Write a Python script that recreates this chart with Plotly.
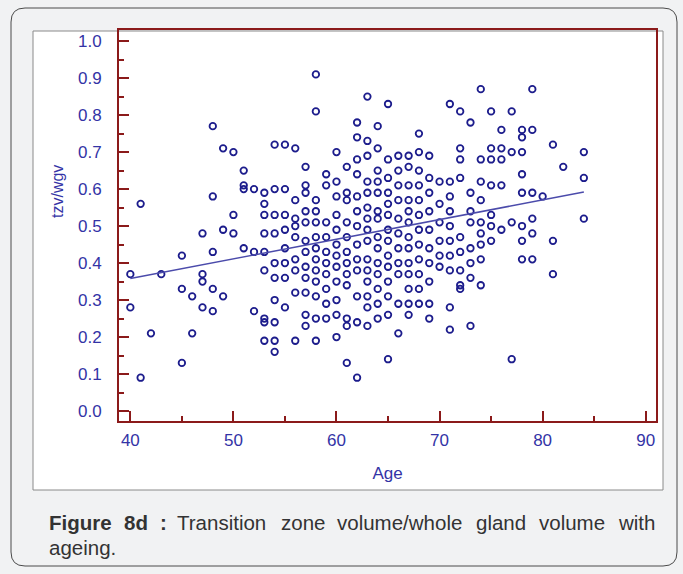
import plotly.graph_objects as go

# Age (years) of each column of observations and the tzv/wgv ratios measured at that age
age_groups = [40, 41, 42, 43, 45, 46, 47, 48, 49, 50, 51, 52, 53, 54, 55, 56, 57, 58, 59,
              60, 61, 62, 63, 64, 65, 66, 67, 68, 69, 70, 71, 72, 73, 74, 75, 76, 77, 78,
              79, 80, 81, 82, 84]
ratio_groups = [
    [0.37, 0.28],
    [0.56, 0.09],
    [0.21],
    [0.37],
    [0.42, 0.33, 0.13],
    [0.31, 0.21],
    [0.48, 0.37, 0.35, 0.28],
    [0.77, 0.58, 0.43, 0.33, 0.27],
    [0.71, 0.49, 0.31],
    [0.70, 0.53, 0.48],
    [0.65, 0.61, 0.60, 0.44],
    [0.60, 0.43, 0.27],
    [0.59, 0.56, 0.53, 0.48, 0.43, 0.38, 0.25, 0.24, 0.19],
    [0.72, 0.60, 0.53, 0.48, 0.40, 0.36, 0.30, 0.24, 0.19, 0.16],
    [0.72, 0.60, 0.53, 0.49, 0.44, 0.40, 0.36, 0.28],
    [0.71, 0.57, 0.52, 0.50, 0.47, 0.41, 0.38, 0.32, 0.19],
    [0.66, 0.61, 0.59, 0.54, 0.51, 0.46, 0.43, 0.39, 0.36, 0.32, 0.26, 0.23],
    [0.91, 0.81, 0.57, 0.54, 0.51, 0.47, 0.44, 0.41, 0.38, 0.35, 0.31, 0.25, 0.19],
    [0.64, 0.61, 0.51, 0.47, 0.43, 0.40, 0.37, 0.33, 0.29, 0.25],
    [0.70, 0.62, 0.58, 0.53, 0.49, 0.45, 0.42, 0.39, 0.35, 0.30, 0.26, 0.20],
    [0.66, 0.59, 0.57, 0.51, 0.47, 0.43, 0.40, 0.37, 0.34, 0.25, 0.23, 0.13],
    [0.78, 0.74, 0.68, 0.64, 0.58, 0.54, 0.50, 0.45, 0.41, 0.38, 0.31, 0.24, 0.09],
    [0.85, 0.73, 0.69, 0.62, 0.59, 0.55, 0.52, 0.49, 0.46, 0.41, 0.38, 0.35, 0.31, 0.28, 0.23],
    [0.77, 0.71, 0.65, 0.62, 0.59, 0.54, 0.52, 0.47, 0.44, 0.40, 0.37, 0.33, 0.29, 0.25],
    [0.83, 0.68, 0.63, 0.59, 0.56, 0.53, 0.49, 0.46, 0.42, 0.39, 0.35, 0.31, 0.26, 0.14],
    [0.69, 0.65, 0.61, 0.57, 0.52, 0.48, 0.44, 0.40, 0.37, 0.29, 0.21],
    [0.69, 0.66, 0.61, 0.57, 0.54, 0.51, 0.47, 0.44, 0.40, 0.37, 0.33, 0.29, 0.26],
    [0.75, 0.70, 0.65, 0.61, 0.57, 0.53, 0.49, 0.45, 0.41, 0.37, 0.33, 0.29],
    [0.69, 0.63, 0.59, 0.54, 0.49, 0.44, 0.40, 0.35, 0.29, 0.25],
    [0.62, 0.56, 0.51, 0.46, 0.42, 0.39],
    [0.83, 0.62, 0.58, 0.54, 0.50, 0.46, 0.42, 0.38, 0.28, 0.22],
    [0.81, 0.71, 0.68, 0.63, 0.47, 0.43, 0.38, 0.34, 0.33],
    [0.78, 0.59, 0.54, 0.51, 0.44, 0.40, 0.36, 0.23],
    [0.87, 0.68, 0.62, 0.57, 0.51, 0.48, 0.45, 0.41, 0.34],
    [0.81, 0.71, 0.68, 0.61, 0.53, 0.50, 0.46],
    [0.76, 0.71, 0.68, 0.61, 0.49],
    [0.81, 0.70, 0.51, 0.14],
    [0.76, 0.74, 0.70, 0.64, 0.59, 0.50, 0.46, 0.41],
    [0.87, 0.76, 0.59, 0.52, 0.48, 0.41],
    [0.58],
    [0.72, 0.46, 0.37],
    [0.66],
    [0.70, 0.63, 0.52],
]

# End points of the fitted regression line
fit_age = [40, 84]
fit_ratio = [0.358, 0.592]

x_ticks = [40, 50, 60, 70, 80, 90]
y_ticks = [0.0, 0.1, 0.2, 0.3, 0.4, 0.5, 0.6, 0.7, 0.8, 0.9, 1.0]

caption_words = ["<b>Figure</b>", "<b>8d</b>", "<b>:</b>", "Transition", "zone",
                 "volume/whole", "gland", "volume", "with"]
caption_tail = "ageing."

age = [a for a, grp in zip(age_groups, ratio_groups) for _ in grp]
ratio = [v for grp in ratio_groups for v in grp]

W, H = 683, 574
PL, PR, PT, PB = 119, 656, 30, 421   # plot-area edges in pixels

AXIS_RED = "#8b1a1a"
LABEL_BLUE = "#3333a6"
MARK_BLUE = "#1c1c8c"
FONT = "Liberation Sans, Arial, sans-serif"


def px(x):
    return (x - PL) / (PR - PL)


def py(y):
    return (PB - y) / (PB - PT)


def rounded_rect(x0, y0, x1, y1, r):
    xa, xb, xr0, xr1 = px(x0), px(x1), px(x0 + r), px(x1 - r)
    ya, yb, yr0, yr1 = py(y0), py(y1), py(y0 + r), py(y1 - r)
    return (f"M {xr0},{ya} L {xr1},{ya} Q {xb},{ya} {xb},{yr0} "
            f"L {xb},{yr1} Q {xb},{yb} {xr1},{yb} L {xr0},{yb} "
            f"Q {xa},{yb} {xa},{yr1} L {xa},{yr0} Q {xa},{ya} {xr0},{ya} Z")


fig = go.Figure()

fig.add_trace(go.Scatter(
    x=age, y=ratio, mode="markers",
    marker=dict(symbol="circle-open", size=6.5, color=MARK_BLUE, line=dict(width=1.8)),
    hoverinfo="x+y", showlegend=False,
))

fig.add_trace(go.Scatter(
    x=fit_age, y=fit_ratio, mode="lines",
    line=dict(color="#4b4bab", width=1.5),
    hoverinfo="skip", showlegend=False,
))

axis_common = dict(
    showline=True, linecolor=AXIS_RED, linewidth=2, mirror=True,
    ticks="inside", ticklen=10, tickwidth=2, tickcolor=AXIS_RED,
    showgrid=False, zeroline=False,
    tickfont=dict(family=FONT, size=17, color=LABEL_BLUE),
)

fig.update_xaxes(
    range=[38.9, 91.0], tickvals=x_ticks, ticktext=[str(t) for t in x_ticks],
    minor=dict(ticks="inside", ticklen=5, tickwidth=2, tickcolor=AXIS_RED, dtick=5,
               tick0=0, showgrid=False),
    ticklabelstandoff=3,
    title=dict(text="Age", font=dict(family=FONT, size=17, color=LABEL_BLUE), standoff=18),
    **axis_common,
)
fig.update_yaxes(
    range=[-0.027, 1.03], tickvals=y_ticks, ticktext=[f"{t:.1f}" for t in y_ticks],
    minor=dict(ticks="inside", ticklen=5, tickwidth=2, tickcolor=AXIS_RED, dtick=0.05,
               tick0=0, showgrid=False),
    ticklabelstandoff=12,
    **axis_common,
)

shapes = [
    dict(type="path", xref="paper", yref="paper", layer="below",
         path=rounded_rect(11, 8, 677, 566, 14),
         line=dict(color="#4a4a4a", width=1), fillcolor="#f1f2f3"),
    dict(type="rect", xref="paper", yref="paper", layer="below",
         x0=px(33), x1=px(663), y0=py(31), y1=py(490),
         line=dict(color="#8a8a8a", width=1), fillcolor="white"),
]

caption_font = dict(family=FONT, size=20.5, color="#333333")
# justified first caption line: left edge of every word, px
word_left = [47, 122, 158, 175, 279, 335, 474, 537, 616]

annotations = [
    dict(text="tzv/wgv", textangle=-90, xref="paper", yref="paper",
         x=px(57), y=py(192), xanchor="center", yanchor="middle", showarrow=False,
         font=dict(family=FONT, size=16, color=LABEL_BLUE)),
    dict(text=caption_tail, xref="paper", yref="paper", x=px(47), y=py(547),
         xanchor="left", yanchor="middle", showarrow=False, font=caption_font),
]
for word, left in zip(caption_words, word_left):
    annotations.append(dict(text=word, xref="paper", yref="paper", x=px(left), y=py(522),
                            xanchor="left", yanchor="middle", showarrow=False,
                            font=caption_font))

fig.update_layout(
    width=W, height=H,
    margin=dict(l=PL, r=W - PR, t=PT, b=H - PB),
    paper_bgcolor="#f1f2f3", plot_bgcolor="white",
    shapes=shapes, annotations=annotations,
    font=dict(family=FONT),
)

fig.write_html("out.html")
